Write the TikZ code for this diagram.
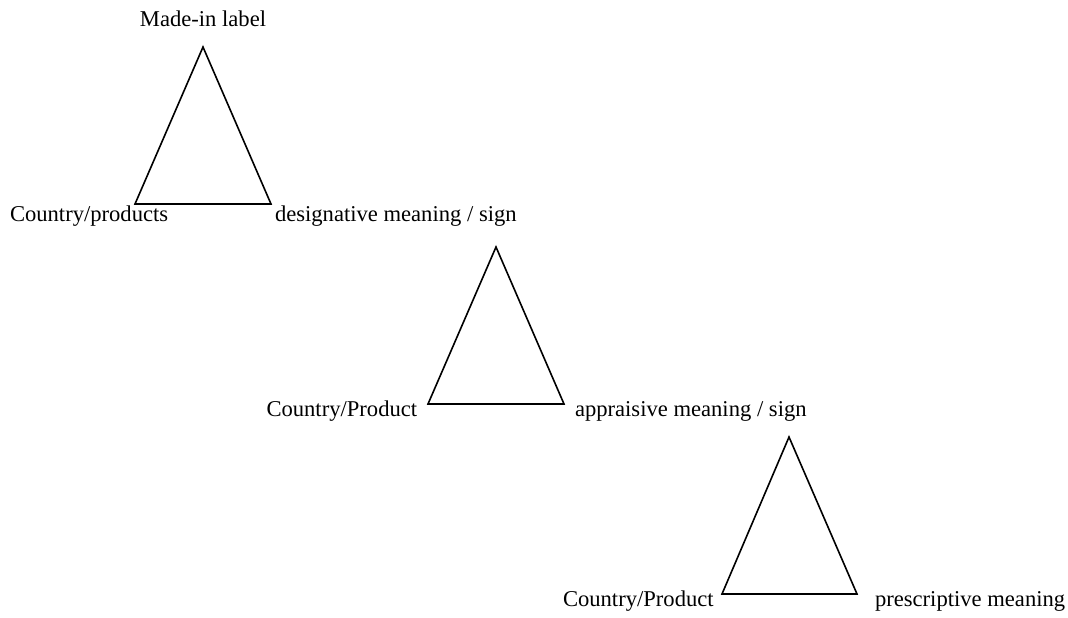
\documentclass[tikz,border=0pt]{standalone}
\usepackage{fontspec}
\setmainfont{Liberation Serif}
\begin{document}
\begin{tikzpicture}[x=1pt,y=-1pt,
  tri/.style={draw=black,line width=1.6pt,line join=miter},
  lbl/.style={inner sep=0pt,outer sep=0pt,font=\fontsize{22.6}{26}\selectfont}]
\useasboundingbox (0,0) rectangle (1068,618);
% triangle 1
\coordinate (t1a) at (203,47);
\coordinate (t1l) at (135,204);
\coordinate (t1r) at (271,204);
\draw[tri] (t1a) -- (t1l) -- (t1r) -- cycle;
\node[lbl,anchor=base] (m1) at (203,26.5) {Made-in label};
\node[lbl,anchor=base west] (c1) at (10,221) {Country/products};
\node[lbl,anchor=base west] (d1) at (275,221) {designative meaning / sign};
% triangle 2
\coordinate (t2a) at (496,247);
\coordinate (t2l) at (428,404);
\coordinate (t2r) at (564,404);
\draw[tri] (t2a) -- (t2l) -- (t2r) -- cycle;
\node[lbl,anchor=base west] (c2) at (266.5,416) {Country/Product};
\node[lbl,anchor=base west] (d2) at (575,416) {appraisive meaning / sign};
% triangle 3
\coordinate (t3a) at (789,437);
\coordinate (t3l) at (722,594);
\coordinate (t3r) at (857,594);
\draw[tri] (t3a) -- (t3l) -- (t3r) -- cycle;
\node[lbl,anchor=base west] (c3) at (563,606) {Country/Product};
\node[lbl,anchor=base west] (d3) at (875,606) {prescriptive meaning};
\end{tikzpicture}
\end{document}
